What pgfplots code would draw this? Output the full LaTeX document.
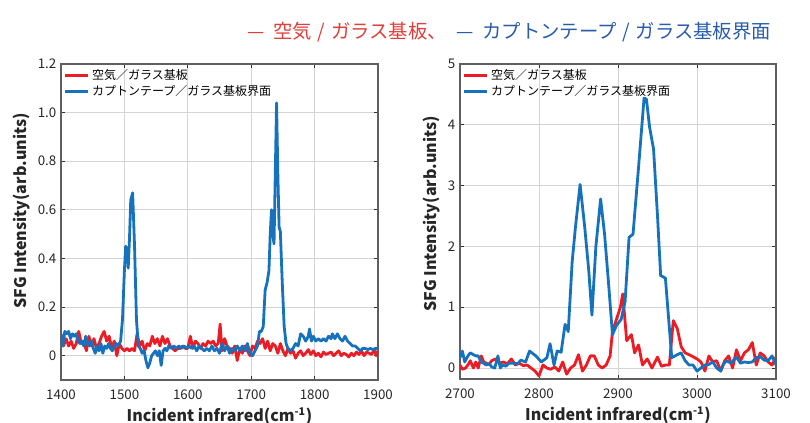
\documentclass[border=0pt]{standalone}
\usepackage{fontspec}
\setmainfont{Noto Sans CJK JP}
\usepackage{pgfplots}
\pgfplotsset{compat=1.18}
\definecolor{pred}{RGB}{237,28,36}
\definecolor{pblue}{RGB}{22,114,189}
\definecolor{tred}{RGB}{224,62,58}
\definecolor{tblue}{RGB}{42,92,172}
\definecolor{spine}{RGB}{95,95,95}
\pgfplotsset{
  mystyle/.style={
    scale only axis,
    axis line style={spine, line width=0.8pt},
    grid=major,
    major grid style={draw=black!17, line width=0.6pt},
    tick align=inside,
    major tick length=3pt,
    tick style={black!80, line width=0.6pt},
    ticklabel style={font=\fontsize{10}{12}\selectfont, text=black!85},
    xticklabel style={yshift=-3.5pt},
    /pgf/number format/assume math mode=true,
    /pgf/number format/set thousands separator={},
    label style={font=\bfseries\fontsize{12}{14}\selectfont, text=black!85},
    legend style={draw=none, fill=none, font=\fontsize{9}{11}\selectfont,
      at={(axis description cs:0.0,1.0)}, anchor=north west, inner sep=2pt, row sep=-1pt},
    legend cell align=left,
    every axis plot/.append style={line width=2.1pt, line join=round},
  }
}
\pgfplotstableread{
x y
1400 0.08
1404 0.04
1408 0.07
1412 0.04
1416 0.06
1420 0.03
1424 0.05
1428 0.10
1432 0.05
1436 0.06
1440 0.02
1444 0.08
1448 0.04
1452 0.07
1456 0.03
1460 0.05
1464 0.08
1468 0.10
1472 0.06
1476 0.08
1480 0.03
1484 0.06
1488 0.00
1492 0.05
1496 0.03
1500 0.02
1504 0.03
1508 0.02
1512 0.03
1516 0.02
1520 0.09
1524 0.04
1528 0.06
1532 0.02
1536 0.05
1540 0.04
1544 0.08
1548 0.05
1552 0.07
1556 0.04
1560 0.08
1564 0.05
1568 0.07
1572 0.04
1576 0.03
1580 0.02
1584 0.03
1588 0.03
1592 0.04
1596 0.03
1600 0.03
1604 0.08
1608 0.03
1612 0.06
1616 0.05
1620 0.03
1624 0.05
1628 0.04
1632 0.06
1636 0.05
1640 0.06
1644 0.04
1648 0.05
1651 0.13
1654 0.02
1658 0.07
1662 0.04
1666 0.03
1670 0.01
1674 0.04
1678 -0.02
1682 0.03
1686 0.01
1690 0.04
1694 0.02
1698 0.00
1702 0.04
1706 0.03
1710 0.06
1714 0.05
1718 0.07
1722 0.03
1726 0.06
1730 0.02
1734 0.05
1738 0.04
1742 0.01
1746 0.05
1750 0.02
1754 0.00
1758 0.03
1762 0.01
1766 0.02
1770 -0.01
1774 0.01
1778 0.02
1782 0.00
1786 0.01
1790 0.025
1794 0.005
1798 0.02
1802 0.00
1806 0.01
1810 -0.005
1814 0.015
1818 0.005
1822 0.01
1826 0.015
1830 0.00
1834 0.01
1838 0.02
1842 0.00
1846 0.01
1850 0.005
1854 -0.005
1858 0.01
1862 0.00
1866 0.015
1870 0.005
1874 0.02
1878 0.00
1882 0.015
1886 0.01
1890 0.005
1894 0.025
1897 0.00
1900 0.02
}\leftred
\pgfplotstableread{
x y
1400 0.09
1403 0.04
1406 0.10
1409 0.09
1412 0.10
1415 0.07
1418 0.09
1421 0.08
1424 0.09
1427 0.06
1430 0.05
1433 0.06
1436 0.04
1439 0.08
1442 0.05
1445 0.04
1448 0.06
1451 0.03
1454 0.01
1457 0.04
1460 0.02
1463 0.05
1466 0.01
1469 0.04
1472 0.03
1475 0.05
1478 0.03
1481 0.02
1484 0.04
1487 0.05
1490 0.04
1494 0.06
1497 0.15
1500 0.35
1502 0.45
1504 0.44
1506 0.36
1508 0.48
1510 0.64
1513 0.67
1516 0.45
1519 0.15
1522 0.04
1525 0.03
1528 0.01
1531 0.02
1534 -0.02
1537 -0.05
1540 -0.03
1543 0.00
1546 0.01
1549 0.02
1552 0.00
1555 0.02
1558 -0.04
1561 0.02
1564 0.03
1567 0.02
1570 0.04
1574 0.03
1578 0.04
1582 0.03
1586 0.04
1590 0.03
1594 0.04
1598 0.03
1602 0.04
1606 0.03
1610 0.04
1614 0.02
1618 0.04
1622 0.03
1626 0.02
1630 0.03
1634 0.02
1638 0.04
1642 0.02
1646 0.03
1650 0.01
1654 0.05
1658 0.02
1662 0.04
1666 0.01
1670 0.03
1674 0.02
1678 0.04
1682 0.02
1686 0.04
1690 0.02
1694 0.05
1698 0.01
1702 0.00
1706 0.02
1710 0.04
1713 0.10
1716 0.10
1719 0.12
1722 0.27
1725 0.30
1728 0.35
1730 0.50
1732 0.60
1734 0.50
1736 0.46
1738 0.75
1740 1.04
1742 0.75
1744 0.53
1746 0.51
1749 0.30
1752 0.12
1755 0.05
1758 0.03
1762 0.02
1766 0.03
1770 0.05
1774 0.04
1778 0.09
1782 0.08
1786 0.06
1790 0.08
1792 0.11
1795 0.06
1798 0.08
1802 0.06
1806 0.07
1810 0.06
1814 0.07
1818 0.06
1822 0.08
1826 0.07
1828 0.09
1832 0.07
1836 0.09
1840 0.07
1844 0.06
1848 0.08
1852 0.06
1856 0.05
1860 0.04
1864 0.04
1868 0.03
1872 0.02
1876 0.03
1880 0.03
1884 0.025
1888 0.03
1892 0.025
1896 0.03
1900 0.03
}\leftblue
\pgfplotstableread{
x y
2700 0.05
2703 -0.02
2707 0.00
2710 0.05
2713 0.12
2717 0.00
2720 0.10
2723 0.00
2727 0.20
2730 0.10
2733 0.08
2737 0.06
2740 0.12
2745 0.15
2750 0.08
2755 0.10
2760 0.07
2765 0.15
2770 0.05
2775 0.08
2780 0.04
2785 0.05
2790 0.00
2795 -0.05
2800 -0.13
2805 0.05
2810 0.00
2815 -0.02
2820 0.02
2825 -0.05
2830 0.10
2835 -0.10
2840 0.00
2845 0.05
2850 0.22
2855 -0.05
2860 0.05
2865 0.20
2870 0.20
2875 0.05
2880 0.00
2885 0.05
2890 0.20
2893 0.60
2898 0.80
2903 1.00
2906 1.22
2911 0.45
2917 0.55
2921 0.25
2926 0.38
2931 0.05
2937 0.15
2943 0.00
2950 0.18
2955 0.03
2960 0.05
2965 0.05
2970 0.78
2975 0.65
2980 0.35
2985 0.25
2993 0.20
3000 0.15
3005 0.10
3010 -0.05
3015 0.20
3020 0.10
3025 0.12
3030 -0.05
3035 0.12
3040 0.20
3045 0.00
3050 0.30
3055 0.12
3060 0.25
3065 0.30
3070 0.42
3075 0.05
3080 0.25
3085 0.20
3090 0.10
3095 0.05
3100 0.18
}\rightred
\pgfplotstableread{
x y
2700 0.17
2703 0.28
2706 0.10
2710 0.20
2713 0.25
2717 0.22
2720 0.20
2723 0.20
2727 0.10
2730 0.08
2733 0.05
2737 0.07
2740 0.02
2744 0.00
2748 0.20
2751 0.00
2754 0.05
2758 0.03
2762 0.08
2768 0.08
2773 0.07
2777 0.13
2783 0.10
2788 0.28
2796 0.20
2803 0.10
2810 0.17
2814 0.40
2819 0.05
2823 0.28
2828 0.26
2833 0.72
2837 0.60
2842 1.75
2846 2.30
2852 3.02
2858 2.30
2863 1.60
2867 0.87
2872 2.00
2878 2.78
2883 2.20
2888 1.40
2893 0.55
2898 0.70
2904 0.80
2909 1.10
2914 2.15
2919 2.20
2926 3.30
2933 4.44
2936 4.42
2940 3.96
2945 3.60
2950 2.50
2954 1.52
2960 1.48
2968 0.17
2975 0.22
2980 0.25
2985 0.12
2990 0.05
2995 0.05
3000 -0.05
3005 0.00
3010 0.05
3015 0.06
3020 0.10
3025 0.00
3030 -0.05
3033 0.05
3037 0.12
3043 0.08
3050 0.18
3055 0.08
3060 0.10
3065 0.09
3070 0.10
3075 0.17
3080 0.19
3085 0.13
3090 0.12
3095 0.20
3100 0.05
}\rightblue
\begin{document}
\begin{tikzpicture}
\useasboundingbox (0,0) rectangle (607.5pt,317.25pt);
\node[anchor=center, font=\fontsize{14.5}{16}\selectfont] at (381.75pt,293.25pt)
  {\textcolor{tred}{—\hspace{0.45em}空気\hspace{0.3em}/\hspace{0.3em}ガラス基板、}\hspace{0.5em}\textcolor{tblue}{—\hspace{0.45em}カプトンテープ\hspace{0.3em}/\hspace{0.3em}ガラス基板界面}};
\begin{axis}[mystyle,
  at={(45.75pt,32.25pt)}, anchor=south west,
  width=237.75pt, height=237pt,
  xmin=1400, xmax=1900, ymin=-0.1, ymax=1.2,
  xtick={1400,1500,1600,1700,1800,1900},
  ytick={0,0.2,0.4,0.6,0.8,1.0,1.2},
  yticklabels={0,0.2,0.4,0.6,0.8,1.0,1.2},
  xlabel={Incident infrared(cm\textsuperscript{-1})},
  ylabel={SFG Intensity(arb.units)},
  xlabel style={at={(axis description cs:0.5,-0.114)}, anchor=center},
  ylabel style={at={(axis description cs:-0.123,0.535)}, anchor=center},
]
\addplot[pred] table[x=x,y=y] {\leftred};
\addlegendentry{空気／ガラス基板}
\addplot[pblue] table[x=x,y=y] {\leftblue};
\addlegendentry{カプトンテープ／ガラス基板界面}
\end{axis}
\begin{axis}[mystyle,
  at={(345pt,33pt)}, anchor=south west,
  width=237pt, height=236.25pt,
  xmin=2700, xmax=3100, ymin=-0.18, ymax=5,
  xtick={2700,2800,2900,3000,3100},
  ytick={0,1,2,3,4,5},
  xlabel={Incident infrared(cm\textsuperscript{-1})},
  ylabel={SFG Intensity(arb.units)},
  xlabel style={at={(axis description cs:0.5,-0.114)}, anchor=center},
  ylabel style={at={(axis description cs:-0.089,0.524)}, anchor=center},
]
\addplot[pred] table[x=x,y=y] {\rightred};
\addlegendentry{空気／ガラス基板}
\addplot[pblue] table[x=x,y=y] {\rightblue};
\addlegendentry{カプトンテープ／ガラス基板界面}
\end{axis}
\end{tikzpicture}
\end{document}
